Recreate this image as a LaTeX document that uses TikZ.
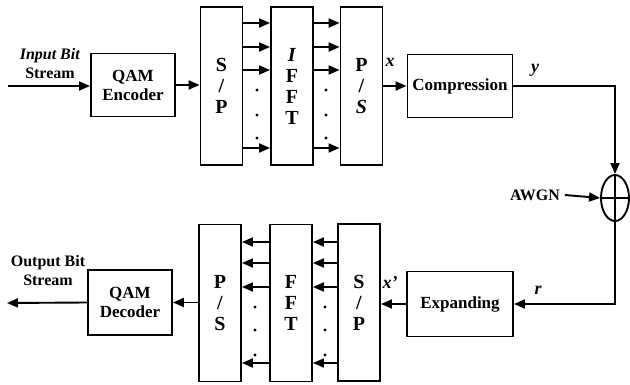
\documentclass[tikz,border=0pt]{standalone}
\usepackage{fontspec}
\setmainfont{Liberation Serif}
\usetikzlibrary{arrows.meta,shapes.geometric}
\begin{document}
\begin{tikzpicture}[x=1pt,y=-1pt,
  line width=1.9pt,
  arr/.style={-{Triangle[length=11pt,width=9pt]}},
  blk/.style={draw,inner sep=0pt,align=center,font=\fontsize{17}{19}\selectfont\bfseries},
  tall/.style={draw,inner sep=0pt,align=center,minimum width=42pt,minimum height=158pt,
    font=\fontsize{20}{21}\selectfont\bfseries},
  lbl/.style={inner sep=1pt,align=center,font=\fontsize{16}{19}\selectfont\bfseries},
  sig/.style={inner sep=1pt,font=\fontsize{18}{18}\selectfont\bfseries\itshape},
  sumnode/.style={draw,ellipse,inner sep=0pt,minimum width=28pt,minimum height=46pt},
  dot/.style={circle,fill,inner sep=0pt,minimum size=3.4pt}]
\useasboundingbox (0,0) rectangle (630,385);

% transmitter chain
\node[blk,minimum width=84pt,minimum height=63pt] (enc) at (133,85) {QAM\\Encoder};
\node[tall] (sp1) at (221.5,86) {S\\/\\P};
\node[tall] (ifft) at (292,86) {\textit{I}\\F\\F\\T};
\node[tall] (ps1) at (361.5,86) {P\\/\\\textit{S}};
\node[blk,minimum width=105pt,minimum height=63pt] (comp) at (460,86) {Compression};
\node[sumnode] (sum) at (615,198) {};
\draw[line width=1.6pt] (sum.north) -- (sum.south) (sum.west) -- (sum.east);

% receiver chain
\node[blk,minimum width=106pt,minimum height=65pt] (exp) at (460,304) {Expanding};
\node[tall,minimum height=157pt] (sp2) at (359,302.5) {S\\/\\P};
\node[tall,minimum height=157pt] (fft) at (291,303) {F\\F\\T};
\node[tall,minimum height=157pt] (ps2) at (220,303) {P\\/\\S};
\node[blk,minimum width=84pt,minimum height=65pt] (dec) at (130,302.5) {QAM\\Decoder};

% input / output
\coordinate (src) at (8,86);
\coordinate (snk) at (7,303);
\node[lbl] (inlbl) at (50,64) {\textit{Input Bit}\\Stream};
\node[lbl] (outlbl) at (48,271) {Output Bit\\Stream};
\node[lbl] (awgn) at (535,195) {AWGN};

\draw[arr] (src) -- (enc.west |- src);
\draw[arr] (enc.east) -- (sp1.west |- enc.east);
\draw[arr] (ps1.east) -- (comp.west |- ps1.east);
\draw[arr] (comp.east) -| (sum.north);
\draw[arr] ([xshift=3pt]awgn.east) -- (sum.west);
\draw[arr] (sum.south) |- (exp.east);
\draw[arr] (exp.west) -- (sp2.east |- exp.west);
\draw[arr] (ps2.west |- dec.east) -- (dec.east);
\draw[arr] (dec.west) -- (snk);

% parallel streams
\foreach \yy in {23,47,70,148} {
  \draw[arr] (sp1.east |- 0,\yy) -- (ifft.west |- 0,\yy);
  \draw[arr] (ifft.east |- 0,\yy) -- (ps1.west |- 0,\yy);
}
\foreach \yy in {242,263,287,363} {
  \draw[arr] (sp2.west |- 0,\yy) -- (fft.east |- 0,\yy);
  \draw[arr] (fft.west |- 0,\yy) -- (ps2.east |- 0,\yy);
}
\foreach \yy in {90,115,138} {
  \node[dot] at (257,\yy) {};
  \node[dot] at (326,\yy) {};
}
\foreach \yy in {307,330,355} {
  \node[dot] at (255,\yy) {};
  \node[dot] at (325,\yy) {};
}

% signal names
\node[sig] (lx) at (390,62) {x};
\node[sig] (ly) at (535,70) {y};
\node[sig] (lxp) at (390,283) {x'};
\node[sig] (lr) at (538,290) {r};
\end{tikzpicture}
\end{document}
